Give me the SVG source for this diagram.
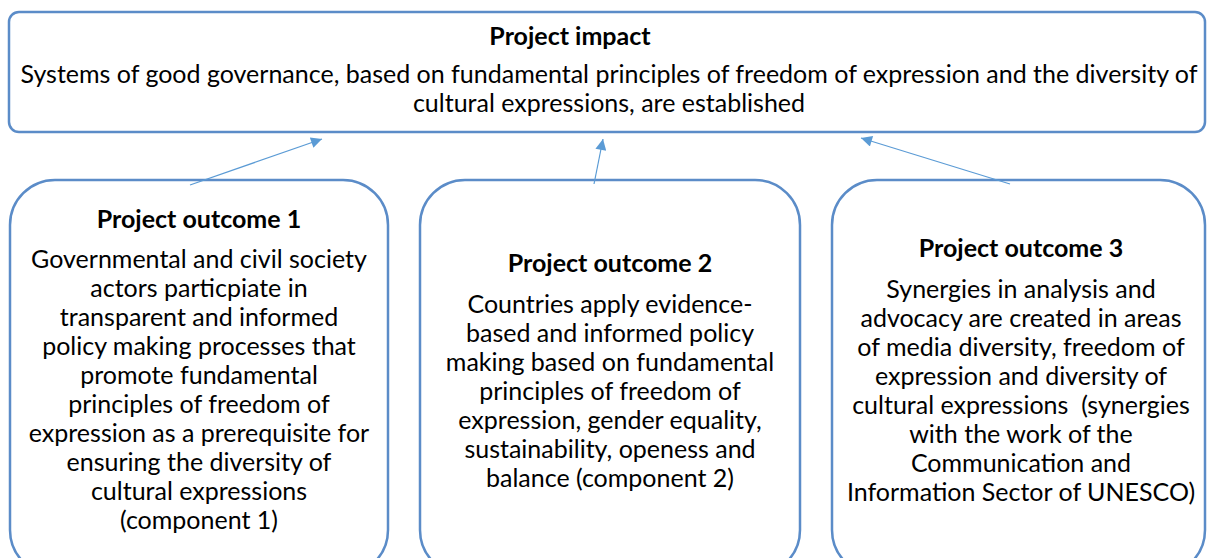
<svg xmlns="http://www.w3.org/2000/svg" width="1207" height="558" viewBox="0 0 1207 558">
<style>
.box{fill:#fff;stroke:#5b8cc8;stroke-width:2.5}
.t{font-family:Lato,"Liberation Sans",sans-serif;font-size:25px;fill:#000;text-anchor:middle}
.b{font-weight:bold}
.c{stroke:#5b9bd5;stroke-width:1.2;fill:none}
</style>
<defs>
<marker id="ah" viewBox="0 0 10 10" refX="10" refY="5" markerWidth="16" markerHeight="11" markerUnits="userSpaceOnUse" orient="auto">
<path d="M0,0 L10,5 L0,10 z" fill="#5b9bd5"/>
</marker>
</defs>
<g id="impact">
<rect class="box" x="9" y="12" width="1196" height="120" rx="10"/>
<text class="t b" x="570" y="45">Project impact</text>
<text class="t" x="609" y="83">Systems of good governance, based on fundamental principles of freedom of expression and the diversity of</text>
<text class="t" x="609" y="112">cultural expressions, are established</text>
</g>
<g id="outcome1">
<rect class="box" x="10" y="180" width="378" height="395" rx="45"/>
<text class="t b" x="199" y="228">Project outcome 1</text>
<text class="t" x="199" y="268">Governmental and civil society</text>
<text class="t" x="199" y="297">actors particpiate in</text>
<text class="t" x="199" y="326">transparent and informed</text>
<text class="t" x="199" y="355">policy making processes that</text>
<text class="t" x="199" y="384">promote fundamental</text>
<text class="t" x="199" y="413">principles of freedom of</text>
<text class="t" x="199" y="442">expression as a prerequisite for</text>
<text class="t" x="199" y="471">ensuring the diversity of</text>
<text class="t" x="199" y="500">cultural expressions</text>
<text class="t" x="199" y="529">(component 1)</text>
</g>
<g id="outcome2">
<rect class="box" x="420" y="180" width="380" height="395" rx="45"/>
<text class="t b" x="610" y="272">Project outcome 2</text>
<text class="t" x="610" y="313">Countries apply evidence-</text>
<text class="t" x="610" y="342">based and informed policy</text>
<text class="t" x="610" y="371">making based on fundamental</text>
<text class="t" x="610" y="400">principles of freedom of</text>
<text class="t" x="610" y="429">expression, gender equality,</text>
<text class="t" x="610" y="458">sustainability, openess and</text>
<text class="t" x="610" y="487">balance (component 2)</text>
</g>
<g id="outcome3">
<rect class="box" x="832" y="180" width="373" height="395" rx="45"/>
<text class="t b" x="1021" y="257">Project outcome 3</text>
<text class="t" x="1021" y="298">Synergies in analysis and</text>
<text class="t" x="1021" y="327">advocacy are created in areas</text>
<text class="t" x="1021" y="356">of media diversity, freedom of</text>
<text class="t" x="1021" y="385">expression and diversity of</text>
<text class="t" x="1021" y="414" xml:space="preserve">cultural expressions  (synergies</text>
<text class="t" x="1021" y="443">with the work of the</text>
<text class="t" x="1021" y="472">Communication and</text>
<text class="t" x="1021" y="501">Information Sector of UNESCO)</text>
</g>
<g id="connectors">
<line class="c" x1="190" y1="185" x2="322" y2="139" marker-end="url(#ah)"/>
<line class="c" x1="594" y1="184" x2="603" y2="139" marker-end="url(#ah)"/>
<line class="c" x1="1010" y1="184" x2="861" y2="138" marker-end="url(#ah)"/>
</g>
</svg>
